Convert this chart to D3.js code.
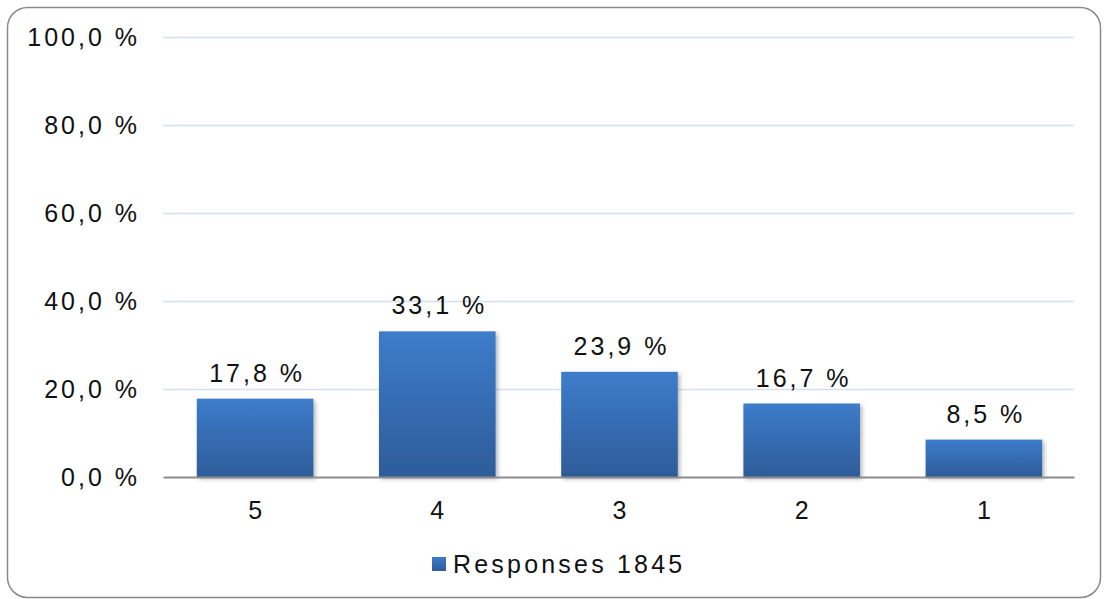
<!DOCTYPE html>
<html>
<head>
<meta charset="utf-8">
<script src="https://cdn.jsdelivr.net/npm/d3@7"></script>
<style>
  body { margin: 0; background: #fff; }
  text { font-family: "Liberation Sans", Arial, sans-serif; fill: #111; }
</style>
</head>
<body>
<svg width="1104" height="599"></svg>
<script>
// chart values
var categories = ["5", "4", "3", "2", "1"];
var values = [17.8, 33.1, 23.9, 16.7, 8.5];
var yTicks = [0, 20, 40, 60, 80, 100];
var seriesName = "Responses 1845";

var svg = d3.select("svg");
var fmt = v => d3.format(".1f")(v).replace(".", ",") + " %";

// outer frame
svg.append("rect")
  .attr("x", 7.5).attr("y", 7.5)
  .attr("width", 1093).attr("height", 590)
  .attr("rx", 20)
  .style("fill", "#fff").style("stroke", "#8a8a8a").style("stroke-width", 1.5);

var defs = svg.append("defs");
var grad = defs.append("linearGradient").attr("id", "barGrad")
  .attr("x1", 0).attr("y1", 0).attr("x2", 0).attr("y2", 1);
grad.append("stop").attr("offset", "0%").attr("stop-color", "#3d7ccb");
grad.append("stop").attr("offset", "100%").attr("stop-color", "#2e5c99");

var shadow = defs.append("filter").attr("id", "shadow")
  .attr("x", "-10%").attr("y", "-10%").attr("width", "130%").attr("height", "130%");
shadow.append("feDropShadow")
  .attr("dx", 2).attr("dy", 2).attr("stdDeviation", 2)
  .attr("flood-color", "#000").attr("flood-opacity", 0.3);

var xScale = d3.scaleBand()
  .domain(categories).range([163, 1074])
  .paddingInner(0.36).paddingOuter(0.18);

var yScale = d3.scaleLinear()
  .domain([0, 100]).range([477, 37]);

// gridlines
svg.append("g")
  .selectAll("line")
  .data(yTicks.filter(d => d > 0)).enter()
  .append("line")
  .attr("x1", 163).attr("x2", 1074)
  .attr("y1", d => yScale(d) + 0.5).attr("y2", d => yScale(d) + 0.5)
  .style("stroke", "#d5e0ee").style("stroke-width", 1.5);

// y labels
svg.append("g")
  .selectAll("text")
  .data(yTicks).enter()
  .append("text")
  .attr("x", 140)
  .attr("y", d => yScale(d))
  .attr("dy", "0.36em")
  .attr("text-anchor", "end")
  .style("font-size", "25px").style("letter-spacing", "3px")
  .text(fmt);

// bars
svg.append("g")
  .selectAll("rect")
  .data(values).enter()
  .append("rect")
  .attr("x", (d, i) => xScale(categories[i]) + 1)
  .attr("y", d => yScale(d))
  .attr("width", xScale.bandwidth())
  .attr("height", d => yScale(0) - yScale(d))
  .attr("filter", "url(#shadow)")
  .style("fill", "url(#barGrad)");

// x axis
var xAxis = d3.axisBottom(xScale).tickSize(0).tickPadding(24);
var gx = svg.append("g")
  .attr("transform", "translate(1," + yScale(0) + ")")
  .call(xAxis);
gx.select(".domain").attr("transform", "translate(-1,0)")
  .style("stroke", "#8c8c8c").style("stroke-width", 2);
gx.selectAll("text")
  .style("font-size", "25px").style("font-family", "Liberation Sans, Arial, sans-serif")
  .style("fill", "#111");

// data labels
svg.append("g")
  .selectAll("text")
  .data(values).enter()
  .append("text")
  .attr("x", (d, i) => xScale(categories[i]) + xScale.bandwidth() / 2 + 3)
  .attr("y", d => yScale(d) - 17)
  .attr("text-anchor", "middle")
  .style("font-size", "25px").style("letter-spacing", "3px")
  .text(fmt);

// legend
var legend = svg.append("g").attr("transform", "translate(432,557)");
legend.append("rect")
  .attr("width", 14).attr("height", 14)
  .style("fill", "url(#barGrad)");
legend.append("text")
  .attr("x", 21).attr("y", 16)
  .style("font-size", "25px").style("letter-spacing", "3.2px")
  .text(seriesName);
</script>
</body>
</html>
